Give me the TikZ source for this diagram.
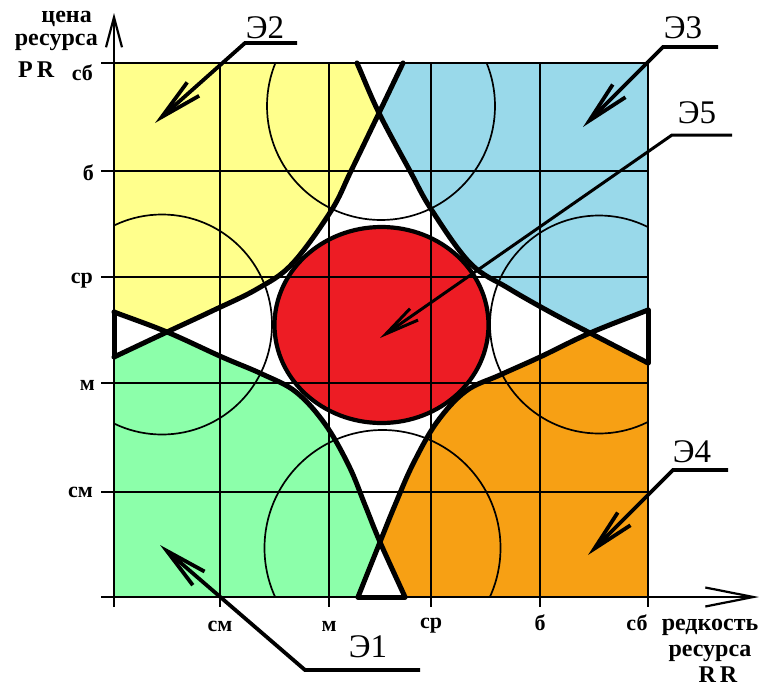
\documentclass[tikz,border=0pt]{standalone}
\usepackage{fontspec}
\setmainfont{Liberation Serif}
\usetikzlibrary{arrows.meta,calc}
\definecolor{cYel}{RGB}{255,255,140}
\definecolor{cBlu}{RGB}{153,217,234}
\definecolor{cGrn}{RGB}{140,255,170}
\definecolor{cOrg}{RGB}{247,160,20}
\definecolor{cRed}{RGB}{237,28,36}
% Catmull-Rom control points for segment #2 -> #3
\newcommand\crctrl[5]{%
  \coordinate (#5a) at ($(#2)+0.16667*(#3)-0.16667*(#1)$);
  \coordinate (#5b) at ($(#3)-0.16667*(#4)+0.16667*(#2)$);}
\begin{document}
\begin{tikzpicture}[x=1pt,y=-1pt,
  gridln/.style={line width=2.2pt},
  thinarc/.style={line width=1.7pt},
  bigcurve/.style={line width=5pt,line join=round,line cap=round},
  leader/.style={line width=3.8pt,line join=miter,-{Straight Barb[length=42pt,width=18pt]}},
  axtxt/.style={font=\fontsize{24}{26}\selectfont\bfseries, inner sep=0pt},
  ticktxt/.style={font=\fontsize{22}{24}\selectfont\bfseries, inner sep=0pt},
  elabel/.style={font=\fontsize{33}{35}\selectfont, inner sep=0pt},
]
\useasboundingbox (0,0) rectangle (762,688);
% corners of the square
\coordinate (Q1) at (114,63);
\coordinate (Q2) at (648,63);
\coordinate (Q3) at (114,597);
\coordinate (Q4) at (648,597);
% edge points and cusps
\coordinate (TL) at (357,63);  \coordinate (TR) at (403,63);  \coordinate (CT) at (379,113);
\coordinate (LT) at (114,312); \coordinate (LB) at (114,357); \coordinate (CL) at (167,332);
\coordinate (RT) at (648,310); \coordinate (RB) at (648,363); \coordinate (CR) at (590,333);
\coordinate (BL) at (358,597); \coordinate (BR) at (405,597); \coordinate (CB) at (380,542);
% curve Y points
\coordinate (Y1) at (351,171); \coordinate (Y2) at (331,211); \coordinate (Y3) at (292,264);
\coordinate (Y4) at (257,289); \coordinate (Y5) at (212,311);
% curve B points
\coordinate (B1) at (410,171); \coordinate (B2) at (431,209); \coordinate (B3) at (470,263);
\coordinate (B4) at (508,288); \coordinate (B5) at (550,312);
% curve G points
\coordinate (G1) at (222,357); \coordinate (G2) at (262,374); \coordinate (G3) at (296,392);
\coordinate (G4) at (325,424); \coordinate (G5) at (349,466); \coordinate (G6) at (365,505);
% curve O points
\coordinate (O1) at (540,357); \coordinate (O2) at (500,375); \coordinate (O3) at (466,391);
\coordinate (O4) at (437,422); \coordinate (O5) at (413,464); \coordinate (O6) at (395,505);
% phantom end points
\coordinate (Yp) at ($2*(TR)-(CT)$); \coordinate (Yq) at ($2*(LB)-(CL)$);
\coordinate (Bp) at ($2*(TL)-(CT)$); \coordinate (Bq) at ($2*(RB)-(CR)$);
\coordinate (Gp) at ($2*(LT)-(CL)$); \coordinate (Gq) at ($2*(BR)-(CB)$);
\coordinate (Op) at ($2*(RT)-(CR)$); \coordinate (Oq) at ($2*(BL)-(CB)$);
% control points
\crctrl{Yp}{TR}{CT}{Y1}{y1} \crctrl{TR}{CT}{Y1}{Y2}{y2} \crctrl{CT}{Y1}{Y2}{Y3}{y3}
\crctrl{Y1}{Y2}{Y3}{Y4}{y4} \crctrl{Y2}{Y3}{Y4}{Y5}{y5} \crctrl{Y3}{Y4}{Y5}{CL}{y6}
\crctrl{Y4}{Y5}{CL}{LB}{y7} \crctrl{Y5}{CL}{LB}{Yq}{y8}
\crctrl{Bp}{TL}{CT}{B1}{b1} \crctrl{TL}{CT}{B1}{B2}{b2} \crctrl{CT}{B1}{B2}{B3}{b3}
\crctrl{B1}{B2}{B3}{B4}{b4} \crctrl{B2}{B3}{B4}{B5}{b5} \crctrl{B3}{B4}{B5}{CR}{b6}
\crctrl{B4}{B5}{CR}{RB}{b7} \crctrl{B5}{CR}{RB}{Bq}{b8}
\crctrl{Gp}{LT}{CL}{G1}{g1} \crctrl{LT}{CL}{G1}{G2}{g2} \crctrl{CL}{G1}{G2}{G3}{g3}
\crctrl{G1}{G2}{G3}{G4}{g4} \crctrl{G2}{G3}{G4}{G5}{g5} \crctrl{G3}{G4}{G5}{G6}{g6}
\crctrl{G4}{G5}{G6}{CB}{g7} \crctrl{G5}{G6}{CB}{BR}{g8} \crctrl{G6}{CB}{BR}{Gq}{g9}
\crctrl{Op}{RT}{CR}{O1}{o1} \crctrl{RT}{CR}{O1}{O2}{o2} \crctrl{CR}{O1}{O2}{O3}{o3}
\crctrl{O1}{O2}{O3}{O4}{o4} \crctrl{O2}{O3}{O4}{O5}{o5} \crctrl{O3}{O4}{O5}{O6}{o6}
\crctrl{O4}{O5}{O6}{CB}{o7} \crctrl{O5}{O6}{CB}{BL}{o8} \crctrl{O6}{CB}{BL}{Oq}{o9}

% fills
\fill[cYel] (Q1) -- (TL) .. controls (b1a) and (b1b) .. (CT)
  .. controls (y2a) and (y2b) .. (Y1) .. controls (y3a) and (y3b) .. (Y2)
  .. controls (y4a) and (y4b) .. (Y3) .. controls (y5a) and (y5b) .. (Y4)
  .. controls (y6a) and (y6b) .. (Y5) .. controls (y7a) and (y7b) .. (CL)
  .. controls (g1b) and (g1a) .. (LT) -- cycle;
\fill[cBlu] (Q2) -- (TR) .. controls (y1a) and (y1b) .. (CT)
  .. controls (b2a) and (b2b) .. (B1) .. controls (b3a) and (b3b) .. (B2)
  .. controls (b4a) and (b4b) .. (B3) .. controls (b5a) and (b5b) .. (B4)
  .. controls (b6a) and (b6b) .. (B5) .. controls (b7a) and (b7b) .. (CR)
  .. controls (o1b) and (o1a) .. (RT) -- cycle;
\fill[cGrn] (Q3) -- (LB) .. controls (y8b) and (y8a) .. (CL)
  .. controls (g2a) and (g2b) .. (G1) .. controls (g3a) and (g3b) .. (G2)
  .. controls (g4a) and (g4b) .. (G3) .. controls (g5a) and (g5b) .. (G4)
  .. controls (g6a) and (g6b) .. (G5) .. controls (g7a) and (g7b) .. (G6)
  .. controls (g8a) and (g8b) .. (CB) .. controls (o9a) and (o9b) .. (BL) -- cycle;
\fill[cOrg] (Q4) -- (RB) .. controls (b8b) and (b8a) .. (CR)
  .. controls (o2a) and (o2b) .. (O1) .. controls (o3a) and (o3b) .. (O2)
  .. controls (o4a) and (o4b) .. (O3) .. controls (o5a) and (o5b) .. (O4)
  .. controls (o6a) and (o6b) .. (O5) .. controls (o7a) and (o7b) .. (O6)
  .. controls (o8a) and (o8b) .. (CB) .. controls (g9a) and (g9b) .. (BR) -- cycle;
\coordinate (RC) at (381.5,325);
\fill[cRed] (RC) ellipse [x radius=107, y radius=98];

% grid
\foreach \yy in {63,171,277,383,492} \draw[gridln] (101,\yy) -- (649,\yy);
\foreach \xx in {220,329,431,540,648} \draw[gridln] (\xx,63) -- (\xx,607);

% thin circles
\begin{scope}
\clip (Q1) rectangle (Q4);
\draw[thinarc] (381,106) circle [radius=114];
\draw[thinarc] (162,324.5) circle [radius=110];
\draw[thinarc] (599,324.5) circle [radius=109];
\draw[thinarc] (382.5,548) circle [radius=118];
\end{scope}

% thick curves
\draw[bigcurve] (TR) .. controls (y1a) and (y1b) .. (CT)
  .. controls (y2a) and (y2b) .. (Y1) .. controls (y3a) and (y3b) .. (Y2)
  .. controls (y4a) and (y4b) .. (Y3) .. controls (y5a) and (y5b) .. (Y4)
  .. controls (y6a) and (y6b) .. (Y5) .. controls (y7a) and (y7b) .. (CL)
  .. controls (y8a) and (y8b) .. (LB);
\draw[bigcurve] (TL) .. controls (b1a) and (b1b) .. (CT)
  .. controls (b2a) and (b2b) .. (B1) .. controls (b3a) and (b3b) .. (B2)
  .. controls (b4a) and (b4b) .. (B3) .. controls (b5a) and (b5b) .. (B4)
  .. controls (b6a) and (b6b) .. (B5) .. controls (b7a) and (b7b) .. (CR)
  .. controls (b8a) and (b8b) .. (RB);
\draw[bigcurve] (LT) .. controls (g1a) and (g1b) .. (CL)
  .. controls (g2a) and (g2b) .. (G1) .. controls (g3a) and (g3b) .. (G2)
  .. controls (g4a) and (g4b) .. (G3) .. controls (g5a) and (g5b) .. (G4)
  .. controls (g6a) and (g6b) .. (G5) .. controls (g7a) and (g7b) .. (G6)
  .. controls (g8a) and (g8b) .. (CB) .. controls (g9a) and (g9b) .. (BR);
\draw[bigcurve] (RT) .. controls (o1a) and (o1b) .. (CR)
  .. controls (o2a) and (o2b) .. (O1) .. controls (o3a) and (o3b) .. (O2)
  .. controls (o4a) and (o4b) .. (O3) .. controls (o5a) and (o5b) .. (O4)
  .. controls (o6a) and (o6b) .. (O5) .. controls (o7a) and (o7b) .. (O6)
  .. controls (o8a) and (o8b) .. (CB) .. controls (o9a) and (o9b) .. (BL);
\draw[bigcurve] (LT) -- (LB);
\draw[bigcurve] (RT) -- (RB);
\draw[bigcurve] (BL) -- (BR);
\draw[line width=4.2pt] (RC) ellipse [x radius=107, y radius=98];

% axes
\coordinate (Ytop) at (114,13);
\coordinate (Ybot) at (114,607);
\coordinate (Xl) at (101,597);
\coordinate (Xr) at (759,597);
\draw[gridln,-{Straight Barb[length=30pt,width=16pt]}] (Ybot) -- (Ytop);
\draw[gridln,-{Straight Barb[length=48pt,width=19pt]}] (Xl) -- (Xr);

% axis titles
\node[axtxt,anchor=base east] (t1) at (92,22) {цена};
\node[axtxt,anchor=base east] (t2) at (98,45) {ресурса};
\node[axtxt,anchor=base west] (t3) at (18,77) {P\,R};
\node[axtxt,anchor=base] (t4) at (710,630) {редкость};
\node[axtxt,anchor=base] (t5) at (710,656) {ресурса};
\node[axtxt,anchor=base] (t6) at (718,682) {R\,R};

% tick labels y
\node[ticktxt,anchor=base east] (ya) at (93,80) {сб};
\node[ticktxt,anchor=base east] (yb) at (94,180) {б};
\node[ticktxt,anchor=base east] (yc) at (93,283) {ср};
\node[ticktxt,anchor=base east] (yd) at (95,390) {м};
\node[ticktxt,anchor=base east] (ye) at (93,497) {см};
% tick labels x
\node[ticktxt,anchor=base] (xa) at (220,631) {см};
\node[ticktxt,anchor=base] (xb) at (329,631) {м};
\node[ticktxt,anchor=base] (xc) at (431,628) {ср};
\node[ticktxt,anchor=base] (xd) at (540,630) {б};
\node[ticktxt,anchor=base] (xe) at (637,630) {сб};

% labels and leaders
\node[elabel,anchor=base] (E2) at (265,38) {Э2};
\node[elabel,anchor=base] (E3) at (683,38) {Э3};
\node[elabel,anchor=base] (E5) at (697,123) {Э5};
\node[elabel,anchor=base] (E4) at (692,462) {Э4};
\node[elabel,anchor=base] (E1) at (368,657) {Э1};

\coordinate (e2u) at (297,43); \coordinate (e2a) at (245,43); \coordinate (e2t) at (155,123);
\coordinate (e3u) at (718,47); \coordinate (e3a) at (663,47); \coordinate (e3t) at (583,127);
\coordinate (e5u) at (732,135); \coordinate (e5a) at (672,135); \coordinate (e5t) at (380,338);
\coordinate (e4u) at (728,470); \coordinate (e4a) at (673,470); \coordinate (e4t) at (588,555);
\coordinate (e1u) at (420,670); \coordinate (e1a) at (305,670); \coordinate (e1t) at (160,545);
\draw[leader] (e2u) -- (e2a) -- (e2t);
\draw[leader] (e3u) -- (e3a) -- (e3t);
\draw[leader,line width=3pt,-{Straight Barb[length=34pt,width=14pt]}] (e5u) -- (e5a) -- (e5t);
\draw[leader] (e4u) -- (e4a) -- (e4t);
\draw[leader] (e1u) -- (e1a) -- (e1t);
\end{tikzpicture}
\end{document}
